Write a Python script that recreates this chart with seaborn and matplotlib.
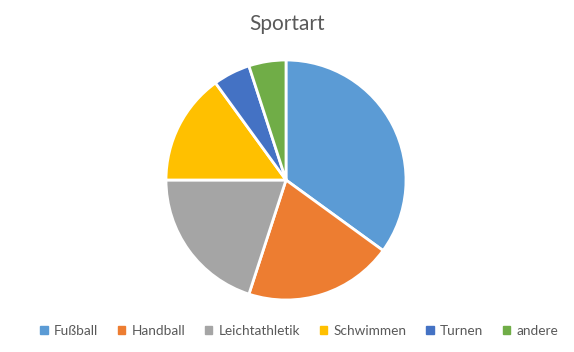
import matplotlib.pyplot as plt
import matplotlib.patches as mpatches
import seaborn as sns

sns.set_theme(style="white")
plt.rcParams['font.family'] = ['Lato', 'DejaVu Sans']

# data
sports = ["Fußball", "Handball", "Leichtathletik", "Schwimmen", "Turnen", "andere"]
shares = [35, 20, 20, 15, 5, 5]
colors = ["#5B9BD5", "#ED7D31", "#A5A5A5", "#FFC000", "#4472C4", "#70AD47"]

fig = plt.figure(figsize=(5.74, 3.52), dpi=100)
ax = fig.add_axes([166 / 574, 52 / 352, 240 / 574, 240 / 352])
ax.pie(shares, colors=colors, startangle=90, counterclock=False,
       wedgeprops=dict(edgecolor="white", linewidth=2))
ax.set_xlim(-1.0, 1.0)
ax.set_ylim(-1.0, 1.0)
ax.set_aspect("equal")

fig.text(0.5, 1 - 24 / 352, "Sportart", ha="center", va="center",
         fontsize=15, color="#595959")

handles = [mpatches.Patch(color=c, label=s) for s, c in zip(sports, colors)]
fig.legend(handles=handles, loc="center", bbox_to_anchor=(0.521, 1 - 331 / 352),
           ncol=6, frameon=False, fontsize=9.8, labelcolor="#595959",
           handlelength=0.55, handleheight=0.55, handletextpad=0.45,
           columnspacing=1.45)

fig.savefig("out.png", dpi=100)
